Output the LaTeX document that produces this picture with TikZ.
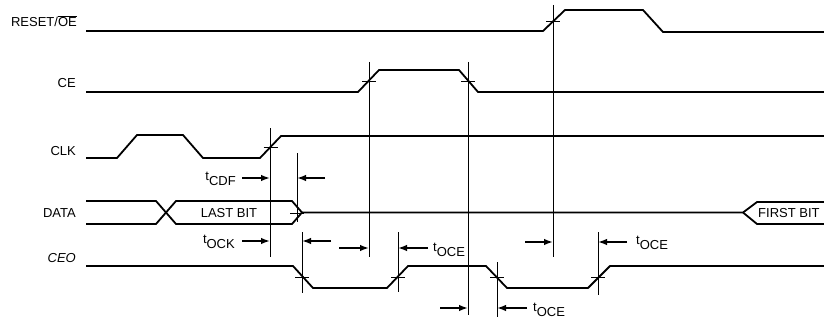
\documentclass[tikz,border=0pt]{standalone}
\usepackage{fontspec}
\setmainfont{Liberation Sans}
\usetikzlibrary{arrows.meta}
\newcommand{\tsb}[1]{t\raisebox{-4.5pt}{#1}}
\begin{document}
\begin{tikzpicture}[x=1pt,y=-1pt,
  sig/.style={line width=1.8pt, line join=round},
  vline/.style={line width=0.8pt},
  tickmark/.style={line width=0.8pt},
  dim/.style={line width=1.5pt,-{Latex[length=9pt,width=6.5pt]}},
  lbl/.style={font=\fontsize{13}{13}\selectfont, inner sep=0pt},
]
\useasboundingbox (0,0) rectangle (824,321);
% signal names
\node[lbl,anchor=base east] (lreset) at (77,27) {RESET/$\overline{\hbox{OE}}$};
\node[lbl,anchor=base east] (lce) at (76,87) {CE};
\node[lbl,anchor=base east] (lclk) at (76,155) {CLK};
\node[lbl,anchor=base east] (ldata) at (76,217) {DATA};
\node[lbl,anchor=base east] (lceo) at (76,262) {\textit{CEO}};
% waveforms
\draw[sig] (86,31) -- (543,31) -- (565,10) -- (643,10) -- (663,32) -- (824,32);
\draw[sig] (86,92) -- (358,92) -- (379,70) -- (459,70) -- (478,92) -- (824,92);
\draw[sig] (86,158) -- (117,158) -- (137,135) -- (183,135) -- (203,158) -- (260,158) -- (281,136) -- (824,136);
\draw[sig] (86,201) -- (156,201) -- (176,224) -- (292,224) -- (302,212.5) -- (292,201) -- (176,201) -- (156,224) -- (86,224);
\draw[sig] (302,212.5) -- (743,212.5) -- (757,202) -- (824,202);
\draw[sig] (743,212.5) -- (757,224) -- (824,224);
\draw[sig] (86,266) -- (293,266) -- (313,288) -- (387,288) -- (408,266) -- (486,266) -- (507,288) -- (588,288) -- (610,266) -- (824,266);
\node[lbl] (lastbit) at (229,213) {LAST BIT};
\node[lbl,anchor=west] (firstbit) at (758,213) {FIRST BIT};
% vertical reference lines
\draw[vline] (270,128) -- (270,257);
\draw[vline] (297,153) -- (297,222);
\draw[vline] (302,232) -- (302,293);
\draw[vline] (369,62) -- (369,257);
\draw[vline] (398,232) -- (398,292);
\draw[vline] (468,62) -- (468,315);
\draw[vline] (497,262) -- (497,317);
\draw[vline] (553,5) -- (553,257);
\draw[vline] (598,232) -- (598,295);
% crossing ticks
\foreach \x/\y in {270.5/147, 369/81, 468/81, 553/21, 302/277, 398/277, 497/277, 598/277, 297/213}
  \draw[tickmark] (\x-7,\y) -- (\x+7,\y);
% timing arrows
\draw[dim] (242,178) -- (270,178);
\draw[dim] (325,178) -- (297,178);
\draw[dim] (242,241) -- (270,241);
\draw[dim] (331,241) -- (302,241);
\draw[dim] (339,248) -- (369,248);
\draw[dim] (428,248) -- (398,248);
\draw[dim] (440,308) -- (468,308);
\draw[dim] (527,308) -- (497,308);
\draw[dim] (525,242) -- (553,242);
\draw[dim] (627,242) -- (598,242);
% timing labels
\node[lbl,anchor=east] (tcdf) at (236,179) {\tsb{CDF}};
\node[lbl,anchor=east] (tock) at (235,242) {\tsb{OCK}};
\node[lbl,anchor=west] (toce1) at (433,250) {\tsb{OCE}};
\node[lbl,anchor=west] (toce2) at (533,310) {\tsb{OCE}};
\node[lbl,anchor=west] (toce3) at (636,243) {\tsb{OCE}};
\end{tikzpicture}
\end{document}
